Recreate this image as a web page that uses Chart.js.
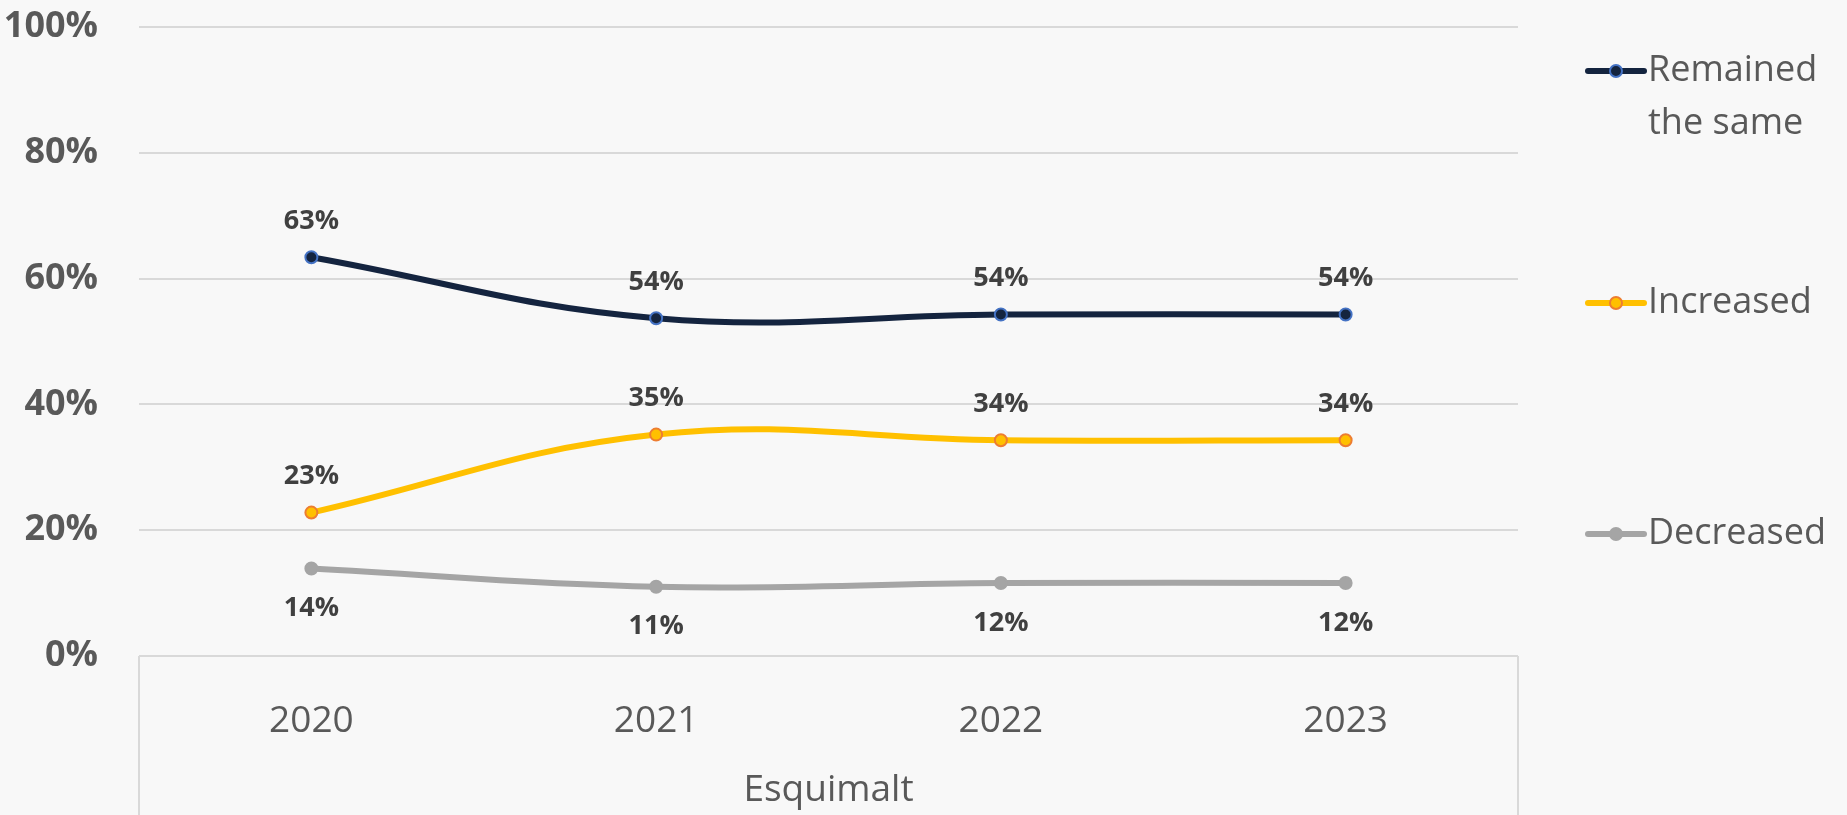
<!DOCTYPE html>
<html lang="en">

<head>
    <meta charset="UTF-8" />
    <title>Esquimalt</title>
    <script src="https://cdn.jsdelivr.net/npm/chart.js@4.4.1/dist/chart.umd.min.js"></script>
    <style>
        body { margin: 0; background: #f8f8f8; }
        canvas { display: block; }
    </style>
</head>

<body>
    <canvas id="myChart" width="1847" height="815"></canvas>
<script>
// values (percent)
var years = ['2020', '2021', '2022', '2023'];
var groupLabel = 'Esquimalt';
var seriesNames = ['Remained the same', 'Increased', 'Decreased'];
var remained = [63.4, 53.7, 54.3, 54.3];
var increased = [22.8, 35.2, 34.3, 34.3];
var decreased = [13.9, 11.0, 11.6, 11.6];
var yTickLabels = ['0%', '20%', '40%', '60%', '80%', '100%'];

Chart.defaults.font.family = '"Open Sans", sans-serif';

// value labels over / under each point
var etiquetas = {
    id: 'etiquetas',
    afterDatasetsDraw: function (chart) {
        var ctx = chart.ctx;
        ctx.save();
        ctx.font = 'bold 27px "Open Sans"';
        ctx.fillStyle = '#404040';
        ctx.textAlign = 'center';
        ctx.textBaseline = 'middle';
        chart.data.datasets.forEach(function (ds, i) {
            var meta = chart.getDatasetMeta(i);
            meta.data.forEach(function (pt, j) {
                var dy = i == 2 ? 40 : -36;
                ctx.fillText(Math.round(ds.data[j]) + '%', pt.x, pt.y + dy);
            });
        });
        ctx.restore();
    }
};

// excel style legend on the right
var leyenda = {
    id: 'leyenda',
    afterDraw: function (chart) {
        var ctx = chart.ctx;
        var x0 = chart.chartArea.right + 70;
        var ys = [71, 303, 534];
        ctx.save();
        ctx.font = '36px "Open Sans"';
        ctx.textBaseline = 'middle';
        chart.data.datasets.forEach(function (ds, i) {
            var y = ys[i];
            ctx.strokeStyle = ds.borderColor;
            ctx.lineWidth = 6;
            ctx.lineCap = 'round';
            ctx.beginPath();
            ctx.moveTo(x0, y);
            ctx.lineTo(x0 + 56, y);
            ctx.stroke();
            ctx.beginPath();
            ctx.arc(x0 + 28, y, 6, 0, Math.PI * 2);
            ctx.fillStyle = ds.pointBackgroundColor;
            ctx.fill();
            ctx.lineWidth = 2;
            ctx.strokeStyle = ds.pointBorderColor;
            ctx.stroke();
            // wrap words
            var words = ds.label.split(' ');
            var lines = [];
            var cur = '';
            words.forEach(function (w) {
                var t = cur ? cur + ' ' + w : w;
                if (ctx.measureText(t).width > 195 && cur) {
                    lines.push(cur);
                    cur = w;
                } else {
                    cur = t;
                }
            });
            lines.push(cur);
            ctx.fillStyle = '#595959';
            lines.forEach(function (l, k) {
                ctx.fillText(l, x0 + 60, y + k * 53);
            });
        });
        ctx.restore();
    }
};

// box lines under the plot around the category labels
var marco = {
    id: 'marco',
    afterDraw: function (chart) {
        var a = chart.chartArea;
        var ctx = chart.ctx;
        ctx.save();
        ctx.strokeStyle = '#d9d9d9';
        ctx.lineWidth = 2;
        ctx.beginPath();
        ctx.moveTo(a.left, a.bottom);
        ctx.lineTo(a.left, chart.height);
        ctx.moveTo(a.right, a.bottom);
        ctx.lineTo(a.right, chart.height);
        ctx.stroke();
        ctx.restore();
    }
};

var ctx = document.getElementById('myChart').getContext('2d');
var myChart = new Chart(ctx, {
    type: 'line',
    data: {
        labels: years,
        datasets: [{
                label: seriesNames[0],
                data: remained,
                borderColor: '#14243f',
                pointBackgroundColor: '#14243f',
                pointBorderColor: '#4472c4',
                borderWidth: 6,
                pointRadius: 6,
                pointBorderWidth: 2,
                tension: 0.4
            },
            {
                label: seriesNames[1],
                data: increased,
                borderColor: '#ffc000',
                pointBackgroundColor: '#ffc000',
                pointBorderColor: '#ed7d31',
                borderWidth: 6,
                pointRadius: 6,
                pointBorderWidth: 2,
                tension: 0.4
            },
            {
                label: seriesNames[2],
                data: decreased,
                borderColor: '#a5a5a5',
                pointBackgroundColor: '#a5a5a5',
                pointBorderColor: '#a5a5a5',
                borderWidth: 6,
                pointRadius: 6,
                pointBorderWidth: 2,
                tension: 0.4
            }
        ]
    },
    options: {
        responsive: false,
        animation: false,
        layout: { padding: { top: 27, right: 329, left: 0, bottom: 0 } },
        plugins: {
            legend: { display: false },
            tooltip: { enabled: false }
        },
        scales: {
            x: {
                offset: true,
                grid: { display: false },
                border: { display: false },
                ticks: {
                    color: '#595959',
                    font: { size: 37 },
                    padding: 35
                },
                title: {
                    display: true,
                    text: groupLabel,
                    color: '#595959',
                    font: { size: 37 },
                    padding: { top: 0, bottom: 2 }
                },
                afterFit: function (s) {
                    s.height = 159;
                    s.paddingLeft = 0;
                    s.paddingRight = 0;
                }
            },
            y: {
                min: 0,
                max: 100,
                ticks: {
                    stepSize: 20,
                    color: '#595959',
                    font: { size: 36, weight: 'bold' },
                    padding: 41,
                    callback: function (v) { return yTickLabels[v / 20]; }
                },
                grid: { color: '#d9d9d9', lineWidth: 2, drawTicks: false },
                border: { display: false },
                afterFit: function (s) {
                    s.width = 139;
                    s.paddingTop = 0;
                    s.paddingBottom = 0;
                }
            }
        }
    },
    plugins: [etiquetas, leyenda, marco]
});
</script>
</body>

</html>
